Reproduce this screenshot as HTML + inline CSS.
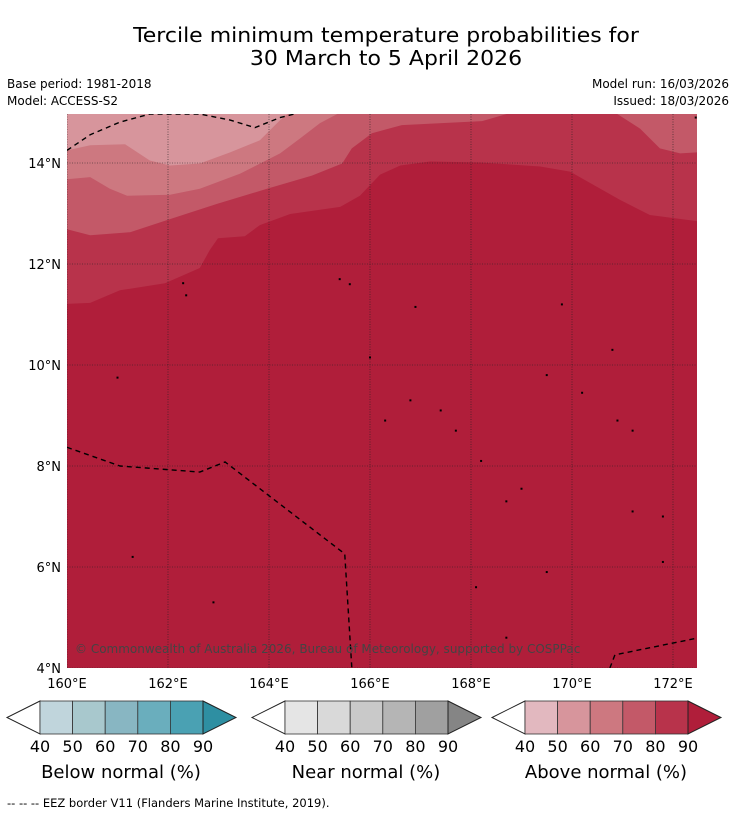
<!DOCTYPE html>
<html><head><meta charset="utf-8"><style>
body{margin:0;background:#fff;width:736px;height:816px;overflow:hidden}
svg{display:block;font-family:"DejaVu Sans","Liberation Sans",sans-serif}
</style></head><body>
<svg id="s" width="736" height="816" viewBox="0 0 736 816">
<text x="386" y="42" text-anchor="middle" font-size="20" transform="translate(386 0) scale(1.1 1) translate(-386 0)">Tercile minimum temperature probabilities for</text>
<text x="386" y="65" text-anchor="middle" font-size="20" transform="translate(386 0) scale(1.1 1) translate(-386 0)">30 March to 5 April 2026</text>
<text x="7" y="88" font-size="12">Base period: 1981-2018</text>
<text x="7" y="105" font-size="12">Model: ACCESS-S2</text>
<text x="729" y="88" font-size="12" text-anchor="end">Model run: 16/03/2026</text>
<text x="729" y="105" font-size="12" text-anchor="end">Issued: 18/03/2026</text>
<defs><clipPath id="mc"><rect x="67" y="114" width="630" height="554"/></clipPath></defs>
<g id="map" clip-path="url(#mc)"></g>
<g id="axes"></g>
<g id="bars"></g>
<text x="7" y="807" font-size="11.5">--  --  -- EEZ border V11 (Flanders Marine Institute, 2019).</text>
</svg>
<script>
const lonTicks=[160,162,164,166,168,170,172];
const latTicks=[4,6,8,10,12,14];
const levels=[40,50,60,70,80,90];
const belowColors=["#c0d5dc","#a8c8cd","#88b6c2","#6aaebd","#4aa1b3","#2e8fa2"];
const nearColors=["#e5e5e5","#d9d9d9","#c9c9c9","#b5b5b5","#a0a0a0","#858585"];
const aboveColors=["#e2b8bf","#d7959c","#cd7880","#c35968","#b8334b","#b01e3a"];
const barTitles=["Below normal (%)","Near normal (%)","Above normal (%)"];
const c80=[[160,11.21],[160.46,11.23],[161.05,11.48],[161.94,11.62],[162.63,11.92],[162.83,12.28],[162.99,12.51],[163.52,12.55],[163.82,12.77],[164.42,12.99],[165.41,13.13],[165.8,13.35],[166.2,13.77],[166.6,13.95],[167.19,14.03],[168.18,14.01],[169.37,13.93],[169.96,13.83],[170.95,13.27],[171.54,12.97],[172.47,12.85]];
const c70=[[160,12.69],[160.46,12.57],[161.25,12.63],[162.04,12.89],[162.97,13.19],[163.96,13.49],[164.85,13.75],[165.45,13.99],[165.64,14.29],[166.04,14.59],[166.63,14.75],[167.42,14.79],[168.22,14.83],[168.81,15]];
const c70b=[[170.85,15],[171.35,14.68],[171.74,14.29],[172.14,14.19],[172.47,14.21]];
const c60=[[160,13.68],[160.46,13.72],[160.85,13.49],[161.19,13.35],[162.04,13.37],[162.63,13.49],[163.43,13.79],[164.22,14.19],[164.62,14.49],[165.01,14.79],[165.41,15]];
const c50=[[160,14.25],[160.46,14.35],[161.15,14.37],[161.64,14.05],[162.04,13.95],[162.63,13.99],[163.23,14.21],[163.82,14.45],[164.22,14.85],[164.4,15]];
const eez1=[[160,14.25],[160.46,14.56],[161.05,14.81],[161.64,14.97],[162.63,14.97],[163.23,14.85],[163.72,14.7],[164.22,14.9],[164.62,15]];
const eez2=[[160,8.37],[161.05,8],[162.63,7.88],[163.13,8.08],[165.5,6.26],[165.64,4]];
const eez3=[[170.75,4],[170.85,4.26],[172.47,4.59]];
const islands=[[162.3,11.62],[162.36,11.38],[165.4,11.7],[165.6,11.6],[166.9,11.15],[169.8,11.2],[166,10.15],[170.8,10.3],[161,9.75],[169.5,9.8],[170.2,9.45],[166.8,9.3],[167.4,9.1],[167.7,8.7],[166.3,8.9],[170.9,8.9],[171.2,8.7],[168.2,8.1],[169,7.55],[168.7,7.3],[171.2,7.1],[171.8,7],[161.3,6.2],[169.5,5.9],[171.8,6.1],[162.9,5.3],[168.1,5.6],[168.7,4.6],[172.45,14.9]];
const X=lon=>67+(lon-160)*50.5, Y=lat=>668-(lat-4)*50.5;
const NS="http://www.w3.org/2000/svg";
function mk(tag,attrs,parent){const e=document.createElementNS(NS,tag);for(const k in attrs)e.setAttribute(k,attrs[k]);parent.appendChild(e);return e;}
const map=document.getElementById('map'), axes=document.getElementById('axes'), bars=document.getElementById('bars');
let r=mk('rect',{x:67,y:114,width:630,height:554,fill:aboveColors[5]},map);


function region(pts,color,name,closeRight){
  let d='M'+pts.map(p=>X(p[0]).toFixed(1)+','+Y(p[1]).toFixed(1)).join('L');
  const last=pts[pts.length-1], first=pts[0];
  d+='L'+(closeRight?697:X(last[0]))+',100L'+(closeRight&&first[0]>160?X(first[0]):60)+',100Z';
  const p=mk('path',{d:d,fill:color},map);
  
  
}
region(c80.concat([[172.6,c80[c80.length-1][1]]]),aboveColors[4],'prob-80-90-region',true);
region(c70,aboveColors[3],'prob-70-80-region',false);
region(c70b.concat([[172.6,14.21]]),aboveColors[3],'prob-70-80-region-east',true);
region(c60,aboveColors[2],'prob-60-70-region',false);
region(c50,aboveColors[1],'prob-50-60-region',false);
lonTicks.forEach(l=>{const g=mk('line',{x1:X(l),x2:X(l),y1:114,y2:668,stroke:'#222','stroke-width':0.6,'stroke-dasharray':'1,1.5'},map);

});
latTicks.forEach(l=>{const g=mk('line',{x1:67,x2:697,y1:Y(l),y2:Y(l),stroke:'#222','stroke-width':0.6,'stroke-dasharray':'1,1.5'},map);

});
[eez1,eez2,eez3].forEach(e=>{const p=mk('polyline',{points:e.map(q=>X(q[0])+','+Y(q[1])).join(' '),fill:'none',stroke:'#000','stroke-width':1.4,'stroke-dasharray':'5,4'},map);

});
islands.forEach(q=>{const c=mk('rect',{x:X(q[0])-1,y:Y(q[1])-1,width:2,height:2,fill:'#000'},map);

});
let cp=mk('text',{x:75,y:653,'font-size':12,fill:'#444'},map);cp.textContent='© Commonwealth of Australia 2026, Bureau of Meteorology, supported by COSPPac';


lonTicks.forEach(l=>{const t=mk('text',{x:X(l),y:688,'font-size':13,'text-anchor':'middle'},axes);t.textContent=l+'°E';

});
latTicks.forEach(l=>{const t=mk('text',{x:61,y:Y(l)+5,'font-size':13,'text-anchor':'end'},axes);t.textContent=l+'°N';

});
const starts=[40,285,525];
[belowColors,nearColors,aboveColors].forEach((cols,i)=>{
  const x0=starts[i], w=163/5, y0=701, h=33;
  const g=mk('g',{},bars);
  
  
  mk('polygon',{points:`${x0},${y0} ${x0-33},${y0+h/2} ${x0},${y0+h}`,fill:'#fff',stroke:'#222','stroke-width':1},g);
  for(let k=0;k<5;k++) mk('rect',{x:x0+k*w,y:y0,width:w,height:h,fill:cols[k],stroke:'#333','stroke-width':0.8},g);
  mk('polygon',{points:`${x0+163},${y0} ${x0+196},${y0+h/2} ${x0+163},${y0+h}`,fill:cols[5],stroke:'#222','stroke-width':1},g);
  levels.forEach((v,k)=>{const t=mk('text',{x:x0+k*w,y:752,'font-size':16,'text-anchor':'middle'},g);t.textContent=v;});
  const t=mk('text',{x:x0+81,y:778,'font-size':18,'text-anchor':'middle'},g);t.textContent=barTitles[i];
});
</script>
</body></html>
